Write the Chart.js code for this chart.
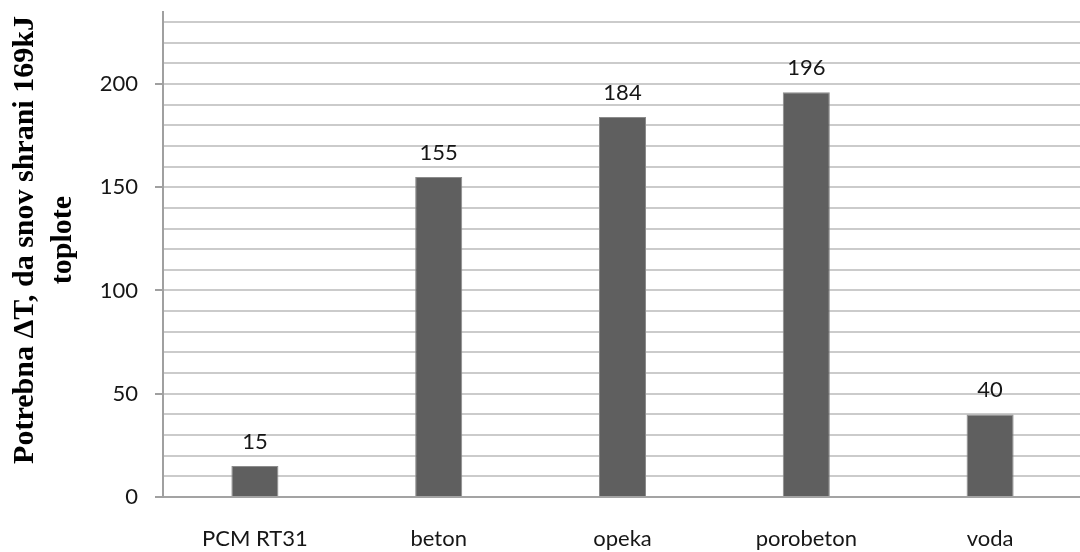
<!DOCTYPE html>
<html>
<head>
<meta charset="utf-8">
<script src="https://cdn.jsdelivr.net/npm/chart.js@4.4.1/dist/chart.umd.min.js"></script>
<style>
  html, body { margin: 0; padding: 0; background: #ffffff; overflow: hidden; }
  #wrap { position: relative; width: 1082px; height: 552px; }
</style>
</head>
<body>
<div id="wrap"><canvas id="chart"></canvas></div>
<script>
// Materials and the temperature rise each needs to store 169 kJ of heat
const categories = ['PCM RT31', 'beton', 'opeka', 'porobeton', 'voda'];
const deltaT = [15, 155, 184, 196, 40];
const yGridValues = [0, 10, 20, 30, 40, 50, 60, 70, 80, 90, 100, 110, 120, 130, 140, 150, 160, 170, 180, 190, 200, 210, 220, 230];
const yLabelEvery = 50;
const axisTitle = ['Potrebna \u0394T, da snov shrani 169kJ', 'toplote'];

const labelFont = { family: 'Lato', size: 22 };
const textColor = '#161616';

// Value printed above each bar
const barValues = {
  id: 'barValues',
  afterDatasetsDraw(chart) {
    const ctx = chart.ctx;
    const meta = chart.getDatasetMeta(0);
    ctx.save();
    ctx.font = `${labelFont.size}px ${labelFont.family}`;
    ctx.fillStyle = textColor;
    ctx.textAlign = 'center';
    ctx.textBaseline = 'middle';
    meta.data.forEach((bar, i) => {
      ctx.fillText(String(chart.data.datasets[0].data[i]), bar.x, bar.y - 24.5);
    });
    ctx.restore();
  }
};

// Two-line rotated title of the value axis
const yTitle = {
  id: 'yTitle',
  afterDraw(chart) {
    const ctx = chart.ctx;
    ctx.save();
    ctx.font = 'bold 30px "Liberation Serif"';
    ctx.fillStyle = '#000000';
    ctx.textAlign = 'center';
    ctx.textBaseline = 'middle';
    ctx.translate(25, 240);
    ctx.rotate(-Math.PI / 2);
    axisTitle.forEach((line, i) => ctx.fillText(line, 0, i * 38.5));
    ctx.restore();
  }
};

new Chart(document.getElementById('chart'), {
  type: 'bar',
  data: {
    labels: categories,
    datasets: [{
      data: deltaT,
      backgroundColor: '#5f5f5f',
      borderColor: '#8c8c8c',
      borderWidth: 1,
      barPercentage: 0.256,
      categoryPercentage: 1.0
    }]
  },
  options: {
    responsive: true,
    maintainAspectRatio: false,
    animation: false,
    layout: { padding: { top: 11.7, right: 0, left: 0, bottom: 0 } },
    plugins: {
      legend: { display: false },
      tooltip: { enabled: false },
      title: { display: false }
    },
    scales: {
      x: {
        grid: { display: true, color: 'transparent', drawTicks: false },
        border: { display: true, color: '#a3a3a3', width: 2 },
        ticks: { color: textColor, font: labelFont, padding: 29, maxRotation: 0, autoSkip: false },
        afterFit(scale) {
          scale.height = 55;
          scale.paddingLeft = 0;
          scale.paddingRight = 0;
        }
      },
      y: {
        min: 0,
        max: 235,
        bounds: 'data',
        afterBuildTicks(scale) { scale.ticks = yGridValues.map(v => ({ value: v })); },
        grid: {
          color: ctx => (ctx.tick && ctx.tick.value % 10 === 0) ? '#cbcbcb' : 'transparent',
          lineWidth: 2,
          tickLength: 8,
          tickColor: ctx => (ctx.tick && ctx.tick.value % yLabelEvery === 0) ? '#a0a0a0' : 'transparent',
          tickWidth: 2
        },
        border: { display: true, color: '#a0a0a0', width: 2 },
        ticks: {
          color: textColor,
          font: labelFont,
          padding: 17,
          autoSkip: false,
          callback: v => (v % yLabelEvery === 0 ? String(v) : '')
        },
        afterFit(scale) {
          scale.width = 163;
          scale.paddingTop = 0;
          scale.paddingBottom = 0;
        }
      }
    }
  },
  plugins: [barValues, yTitle]
});
</script>
</body>
</html>
